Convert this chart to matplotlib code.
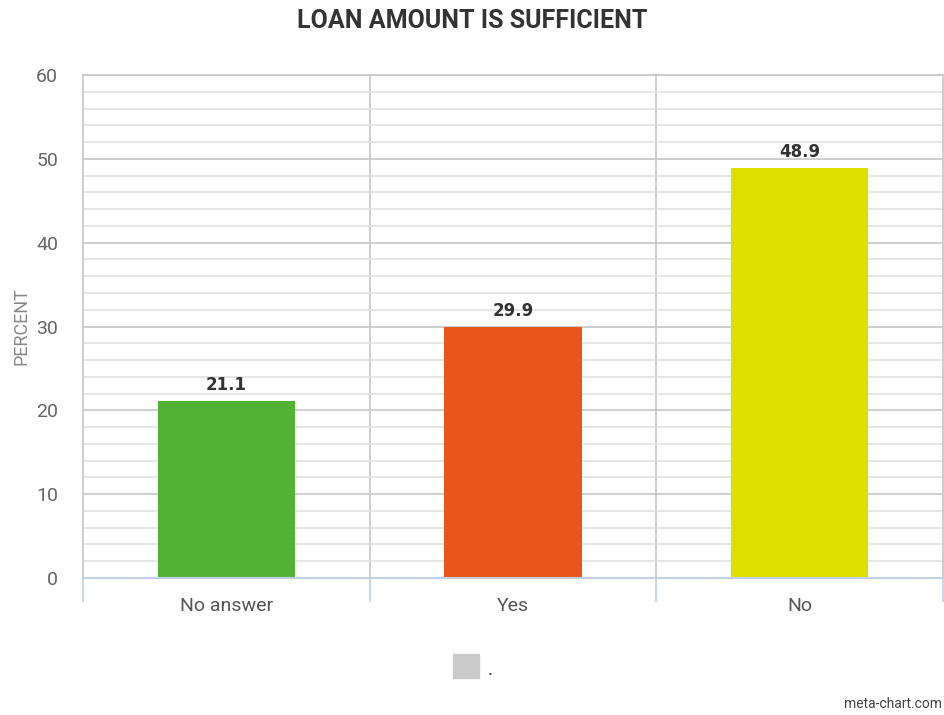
import matplotlib
matplotlib.use("Agg")
import matplotlib.pyplot as plt
from matplotlib.patches import Rectangle
from matplotlib.ticker import MultipleLocator, FixedLocator, NullFormatter

plt.rcParams['font.family'] = ['Roboto', 'DejaVu Sans']

categories = ["No answer", "Yes", "No"]
values = [21.1, 29.9, 48.9]
colors = ["#52b234", "#e9561b", "#dee000"]
title = "LOAN AMOUNT IS SUFFICIENT"

fig = plt.figure(figsize=(9.45, 7.15), dpi=100)
W, H = 945, 715
ax = fig.add_axes([83 / W, (H - 578) / H, (943 - 83) / W, (578 - 75) / H])

x = list(range(len(categories)))
ax.bar(x, values, width=0.48, color=colors, zorder=3)
for xi, v in zip(x, values):
    ax.annotate(f"{v}", (xi, v), xytext=(0, 5), textcoords="offset points",
                ha="center", va="bottom", fontsize=12, fontweight="bold",
                color="#333333", family=['DejaVu Sans'], zorder=4)

ax.set_xlim(-0.5, len(categories) - 0.5)
ax.set_ylim(0, 60)
ax.yaxis.set_major_locator(MultipleLocator(10))
ax.yaxis.set_minor_locator(MultipleLocator(2))
ax.grid(axis="y", which="minor", color="#e2e2e2", linewidth=1.2, zorder=0)
ax.grid(axis="y", which="major", color="#c6c6c6", linewidth=1.2, zorder=1)

# category separators
for b in [0.5, 1.5]:
    ax.axvline(b, color="#c6c6c6", linewidth=1.2, zorder=1)

for s in ["top", "left", "right"]:
    ax.spines[s].set_color("#c6c6c6")
    ax.spines[s].set_linewidth(1.2)
ax.spines["bottom"].set_color("#c0d0e2")
ax.spines["bottom"].set_linewidth(1.5)
ax.spines["bottom"].set_zorder(5)

ax.set_xticks(x)
ax.set_xticklabels(categories, fontsize=14, color="#555555")
ax.xaxis.set_minor_locator(FixedLocator([-0.5, 0.5, 1.5, 2.5]))
ax.xaxis.set_minor_formatter(NullFormatter())
ax.tick_params(axis="x", which="major", length=0, pad=14)
ax.tick_params(axis="x", which="minor", length=17, color="#c0d0e2", width=1.2)
ax.tick_params(axis="y", which="both", length=0, pad=18, labelsize=14, labelcolor="#666666")

fig.text(21 / W, 1 - 326 / H, "PERCENT", rotation=90, ha="center", va="center",
         fontsize=13, color="#888888")

fig.text(0.5, 1 - 21 / H, title, ha="center", va="center", fontsize=18,
         fontweight="bold", color="#333333")

# legend swatch
fig.patches.append(Rectangle((453 / W, (H - 678) / H), 26 / W, 24 / H,
                             transform=fig.transFigure, color="#cbcbcb"))
fig.text(488 / W, 1 - 675 / H, ".", fontsize=14, color="#333333", ha="left", va="baseline")

fig.text(942 / W, 1 - 704 / H, "meta-chart.com", ha="right", va="center",
         fontsize=10, color="#444444")

fig.savefig("out.png", dpi=100)
